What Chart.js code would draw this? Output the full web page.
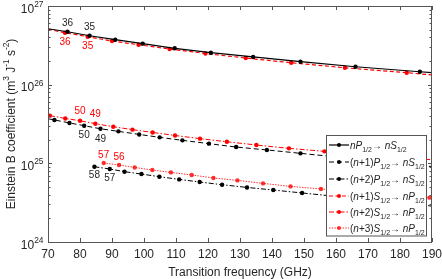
<!DOCTYPE html>
<html>
<head>
<meta charset="utf-8">
<script src="https://cdn.jsdelivr.net/npm/chart.js@4.4.1/dist/chart.umd.min.js"></script>
<style>
  html, body { margin: 0; padding: 0; background: #fff; }
  canvas { display: block; }
</style>
</head>
<body>
<canvas id="chart" width="442" height="279"></canvas>
<script>
// transition frequency (GHz) / Einstein B coefficient (m^3 J^-1 s^-2)
// nP1/2 -> nS1/2, n = 36, 35, ...
const freqA = [76.1, 83.0, 91.0, 99.6, 109.6, 120.9, 134.1, 148.9, 166.1, 186.2];
const coefA = [4.71e26, 4.19e26, 3.73e26, 3.32e26, 2.90e26, 2.55e26, 2.25e26, 1.96e26, 1.69e26, 1.46e26];
const endsA = [[70, 5.14e26], [190, 1.42e26]];
const labelsA = ['36', '35'];

// (n+1)P1/2 -> nS1/2
const freqB = [72.0, 76.7, 81.3, 86.4, 92.0, 98.5, 104.9, 112.0, 120.3, 128.8, 138.4, 148.9];
const coefB = [3.56e25, 3.26e25, 3.01e25, 2.75e25, 2.55e25, 2.33e25, 2.14e25, 1.96e25, 1.78e25, 1.61e25, 1.48e25, 1.34e25];
const endsB = [[70, 3.69e25], [190, 9.1e24]];
const labelsB = ['50', '49'];

// (n+2)P1/2 -> nS1/2
const freqC = [84.5, 89.3, 93.9, 99.2, 104.8, 111.0, 117.4, 124.4, 132.2, 140.4, 149.4];
const coefC = [9.06e24, 8.47e24, 7.83e24, 7.31e24, 6.76e24, 6.25e24, 5.79e24, 5.35e24, 4.94e24, 4.58e24, 4.20e24];
const endsC = [null, [190, 2.86e24]];
const labelsC = ['58', '57'];

// (n+1)S1/2 -> nP1/2
const freqD = [75.3, 82.4, 90.0, 98.3, 108.0, 119.2, 131.8, 146.0, 162.8, 182.1];
const coefD = [4.58e26, 4.07e26, 3.59e26, 3.22e26, 2.84e26, 2.49e26, 2.18e26, 1.90e26, 1.64e26, 1.42e26];
const endsD = [[70, 5.07e26], [190, 1.33e26]];
const labelsD = ['36', '35'];

// (n+2)S1/2 -> nP1/2
const freqE = [70.6, 75.4, 80.0, 84.8, 90.4, 96.4, 102.7, 109.7, 117.5, 125.9, 135.1, 145.3, 156.4];
const coefE = [4.04e25, 3.72e25, 3.48e25, 3.19e25, 2.92e25, 2.68e25, 2.47e25, 2.26e25, 2.06e25, 1.88e25, 1.71e25, 1.55e25, 1.42e25];
const endsE = [null, [190, 1.11e25]];
const labelsE = ['50', '49'];

// (n+3)S1/2 -> nP1/2
const freqF = [87.4, 92.2, 97.1, 102.6, 108.4, 114.9, 121.7, 129.2, 137.2, 145.8, 155.3, 189.2];
const coefF = [1.01e25, 9.53e24, 8.87e24, 8.22e24, 7.67e24, 7.11e24, 6.52e24, 6.07e24, 5.56e24, 5.09e24, 4.72e24, 3.66e24];
const endsF = [null, null];
const labelsF = ['57', '56'];

const xTicks = [70, 80, 90, 100, 110, 120, 130, 140, 150, 160, 170, 180, 190];
const yDecades = [24, 25, 26, 27];

const RED = '#ff0000';
const INK = '#262626';
const FRAME = '#555555';
const FONT = '"Liberation Sans", Arial, sans-serif';

// legend text pieces: i = italic, s = subscript
const sub = { t: '1/2', s: true };
const legendRows = [
  [{ t: 'n', i: true }, { t: 'P', i: true }, sub, { t: '\u2192 ' }, { t: 'n', i: true }, { t: 'S', i: true }, sub],
  [{ t: '(' }, { t: 'n', i: true }, { t: '+1)' }, { t: 'P', i: true }, sub, { t: '\u2192 ' }, { t: 'n', i: true }, { t: 'S', i: true }, sub],
  [{ t: '(' }, { t: 'n', i: true }, { t: '+2)' }, { t: 'P', i: true }, sub, { t: '\u2192 ' }, { t: 'n', i: true }, { t: 'S', i: true }, sub],
  [{ t: '(' }, { t: 'n', i: true }, { t: '+1)' }, { t: 'S', i: true }, sub, { t: '\u2192 ' }, { t: 'n', i: true }, { t: 'P', i: true }, sub],
  [{ t: '(' }, { t: 'n', i: true }, { t: '+2)' }, { t: 'S', i: true }, sub, { t: '\u2192 ' }, { t: 'n', i: true }, { t: 'P', i: true }, sub],
  [{ t: '(' }, { t: 'n', i: true }, { t: '+3)' }, { t: 'S', i: true }, sub, { t: '\u2192 ' }, { t: 'n', i: true }, { t: 'P', i: true }, sub],
];

const series = [
  { x: freqA, y: coefA, ends: endsA, labels: labelsA, labelAt: 0, labelDy: -8.5, color: '#000', dash: [], width: 1.2 },
  { x: freqB, y: coefB, ends: endsB, labels: labelsB, labelAt: 2, labelDy: 10, color: '#000', dash: [5, 3], width: 1 },
  { x: freqC, y: coefC, ends: endsC, labels: labelsC, labelAt: 0, labelDy: 9, color: '#000', dash: [5, 2, 1.5, 2], width: 1 },
  { x: freqD, y: coefD, ends: endsD, labels: labelsD, labelAt: 0, labelDy: 9.5, color: RED, dash: [4, 2.5], width: 1.2 },
  { x: freqE, y: coefE, ends: endsE, labels: labelsE, labelAt: 2, labelDy: -9, color: RED, dash: [5, 2, 1.5, 2], width: 1 },
  { x: freqF, y: coefF, ends: endsF, labels: labelsF, labelAt: 0, labelDy: -8, color: 'rgba(255,0,0,0.8)', dash: [1.5, 1.2], width: 1 },
];

function buildPoints(s) {
  const pts = s.x.map((x, i) => ({ x, y: s.y[i], m: true }));
  if (s.ends[0]) pts.unshift({ x: s.ends[0][0], y: s.ends[0][1], m: false });
  if (s.ends[1]) pts.push({ x: s.ends[1][0], y: s.ends[1][1], m: false });
  return pts;
}

// draw a run of mixed text pieces starting at x (baseline y)
function richWidth(ctx, parts, size) {
  let w = 0;
  parts.forEach(p => {
    const fs = (p.s || p.sup) ? size * 0.7 : size;
    ctx.font = (p.i ? 'italic ' : '') + fs + 'px ' + FONT;
    w += ctx.measureText(p.t).width;
  });
  return w;
}
function drawRich(ctx, parts, x, y, size) {
  parts.forEach(p => {
    const fs = (p.s || p.sup) ? size * 0.7 : size;
    ctx.font = (p.i ? 'italic ' : '') + fs + 'px ' + FONT;
    const dy = p.s ? size * 0.3 : (p.sup ? -size * 0.45 : 0);
    ctx.fillText(p.t, x, y + dy);
    x += ctx.measureText(p.t).width;
  });
  return x;
}

const decorations = {
  id: 'decorations',
  afterDatasetsDraw(chart) {
    const ctx = chart.ctx;
    const xs = chart.scales.x, ys = chart.scales.y;
    const a = chart.chartArea;
    ctx.save();

    // n labels next to the first markers
    ctx.textAlign = 'center';
    ctx.textBaseline = 'middle';
    ctx.font = '10px ' + FONT;
    series.forEach(s => {
      ctx.fillStyle = s.color === '#000' ? INK : RED;
      s.labels.forEach((lab, k) => {
        const j = s.labelAt + k;
        ctx.fillText(lab, xs.getPixelForValue(s.x[j]), ys.getPixelForValue(s.y[j]) + s.labelDy);
      });
    });

    // legend box
    const lx = 326.5, ly = 135.5, lw = 100, lh = 100.5;
    ctx.fillStyle = '#fff';
    ctx.fillRect(lx, ly, lw, lh);
    ctx.strokeStyle = FRAME;
    ctx.lineWidth = 1;
    ctx.strokeRect(lx, ly, lw, lh);
    const rowY = [145, 162, 179, 196, 212, 228];
    ctx.textAlign = 'left';
    series.forEach((s, i) => {
      const y = rowY[i];
      ctx.strokeStyle = s.color;
      ctx.lineWidth = s.width;
      ctx.setLineDash(s.dash);
      ctx.beginPath();
      ctx.moveTo(329, y);
      ctx.lineTo(349, y);
      ctx.stroke();
      ctx.setLineDash([]);
      ctx.fillStyle = s.color;
      ctx.beginPath();
      ctx.arc(339, y, 2, 0, Math.PI * 2);
      ctx.fill();
      ctx.fillStyle = INK;
      ctx.textBaseline = 'alphabetic';
      drawRich(ctx, legendRows[i], 350, y + 3.5, 10);
    });

    // frame
    ctx.strokeStyle = FRAME;
    ctx.lineWidth = 1;
    ctx.strokeRect(a.left + 0.5, a.top + 0.5, a.right - a.left - 1, a.bottom - a.top);

    // x ticks (inward, top and bottom) and labels
    ctx.beginPath();
    xTicks.forEach(v => {
      const px = Math.round(xs.getPixelForValue(v)) + 0.5;
      ctx.moveTo(px, a.bottom); ctx.lineTo(px, a.bottom - 4);
      ctx.moveTo(px, a.top); ctx.lineTo(px, a.top + 4);
    });
    // y ticks, major and minor, both sides
    yDecades.forEach(d => {
      for (let k = 1; k <= 9; k++) {
        if (d === 27 && k > 1) break;
        const py = Math.round(ys.getPixelForValue(k * Math.pow(10, d))) + 0.5;
        const len = k === 1 ? 4 : 2.5;
        ctx.moveTo(a.left, py); ctx.lineTo(a.left + len, py);
        ctx.moveTo(a.right, py); ctx.lineTo(a.right - len, py);
      }
    });
    ctx.stroke();

    ctx.fillStyle = INK;
    ctx.textAlign = 'center';
    ctx.textBaseline = 'alphabetic';
    ctx.font = '12px ' + FONT;
    xTicks.forEach(v => ctx.fillText(String(v), xs.getPixelForValue(v), 257.5));

    ctx.textAlign = 'left';
    yDecades.forEach(d => {
      const parts = [{ t: '10' }, { t: String(d), sup: true }];
      const w = richWidth(ctx, parts, 12);
      const py = ys.getPixelForValue(Math.pow(10, d));
      drawRich(ctx, parts, 43.5 - w, py + 6.5, 12);
    });

    // axis titles
    ctx.font = '12px ' + FONT;
    ctx.textAlign = 'center';
    ctx.fillText('Transition frequency (GHz)', (a.left + a.right) / 2, 276);

    const yTitle = [
      { t: 'Einstein B coefficient (m' }, { t: '3', sup: true }, { t: ' J' }, { t: '-1', sup: true },
      { t: ' s' }, { t: '-2', sup: true }, { t: ')' },
    ];
    ctx.translate(14.5, (a.top + a.bottom) / 2);
    ctx.rotate(-Math.PI / 2);
    ctx.textAlign = 'left';
    const tw = richWidth(ctx, yTitle, 12);
    drawRich(ctx, yTitle, -tw / 2, 0, 12);

    ctx.restore();
  },
};

new Chart(document.getElementById('chart'), {
  type: 'line',
  data: {
    datasets: series.map(s => ({
      data: buildPoints(s),
      borderColor: s.color,
      backgroundColor: s.color,
      borderWidth: s.width,
      borderDash: s.dash,
      pointRadius: c => (c.raw && c.raw.m ? 2.2 : 0),
      pointBorderWidth: 0,
      pointBackgroundColor: s.color,
      tension: 0,
      fill: false,
    })),
  },
  options: {
    responsive: false,
    animation: false,
    devicePixelRatio: 1,
    layout: { padding: { left: 48, top: 6, right: 10, bottom: 37 } },
    plugins: { legend: { display: false }, tooltip: { enabled: false } },
    scales: {
      x: { type: 'linear', min: 70, max: 190, display: false },
      y: { type: 'logarithmic', min: 1e24, max: 1e27, display: false },
    },
  },
  plugins: [decorations],
});
</script>
</body>
</html>
